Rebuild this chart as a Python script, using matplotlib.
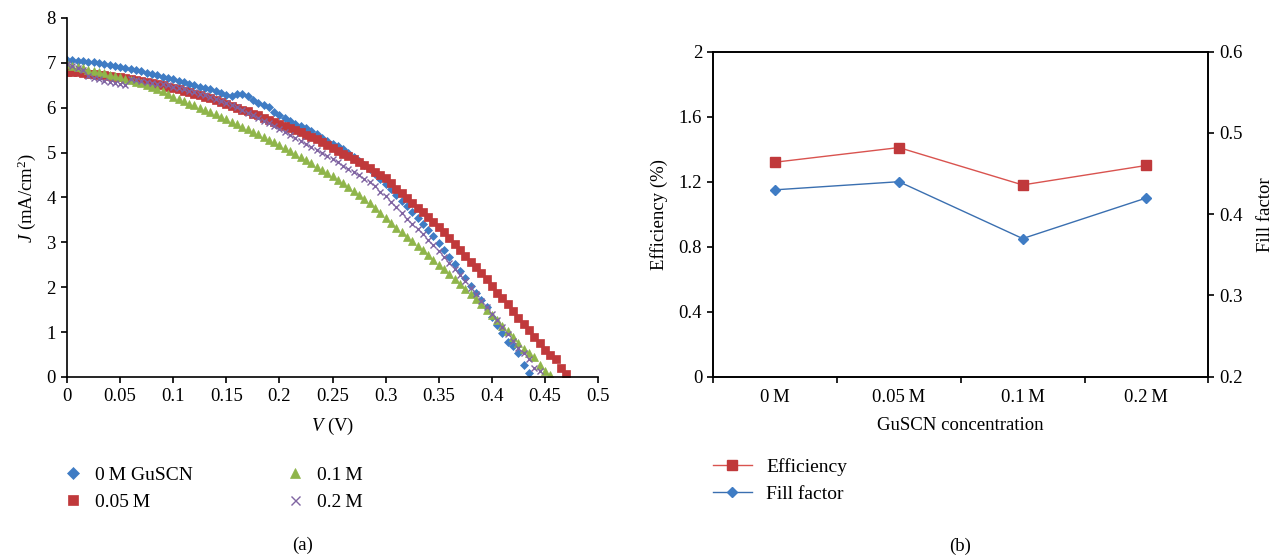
"""J-V curves and efficiency / fill factor vs GuSCN concentration"""
import numpy as np
import matplotlib.pyplot as plt

plt.rcParams['font.family'] = ['Liberation Serif', 'DejaVu Serif']
plt.rcParams['mathtext.fontset'] = 'custom'
plt.rcParams['mathtext.rm'] = 'Liberation Serif'
plt.rcParams['mathtext.it'] = 'Liberation Serif:italic'

# --- data (a): current density J (mA/cm2), voltage sweep step 5 mV from 0 V ---
V_STEP = 0.005
j_0M = [7.07, 7.06, 7.05, 7.04, 7.02, 7.01, 6.99, 6.97, 6.95, 6.93,
        6.91, 6.89, 6.86, 6.84, 6.81, 6.78, 6.75, 6.72, 6.69, 6.66,
        6.63, 6.60, 6.57, 6.53, 6.50, 6.47, 6.44, 6.41, 6.37, 6.33,
        6.29, 6.26, 6.31, 6.31, 6.27, 6.17, 6.10, 6.06, 6.02, 5.90,
        5.84, 5.77, 5.71, 5.64, 5.59, 5.54, 5.48, 5.41, 5.33, 5.26,
        5.20, 5.14, 5.08, 4.99, 4.90, 4.81, 4.72, 4.63, 4.53, 4.42,
        4.29, 4.18, 4.05, 3.93, 3.80, 3.67, 3.54, 3.42, 3.28, 3.14,
        2.99, 2.84, 2.68, 2.52, 2.36, 2.20, 2.03, 1.88, 1.72, 1.56,
        1.34, 1.15, 0.97, 0.78, 0.68, 0.53, 0.26, 0.08]
j_005M = [6.80, 6.80, 6.79, 6.78, 6.76, 6.75, 6.74, 6.72, 6.71, 6.69,
          6.68, 6.66, 6.64, 6.62, 6.59, 6.57, 6.55, 6.52, 6.50, 6.47,
          6.44, 6.41, 6.38, 6.35, 6.31, 6.28, 6.24, 6.21, 6.17, 6.13,
          6.09, 6.04, 6.00, 5.96, 5.92, 5.87, 5.83, 5.78, 5.73, 5.69,
          5.64, 5.59, 5.55, 5.50, 5.45, 5.40, 5.35, 5.30, 5.24, 5.17,
          5.11, 5.04, 4.98, 4.92, 4.86, 4.79, 4.72, 4.65, 4.57, 4.50,
          4.43, 4.32, 4.20, 4.09, 3.98, 3.88, 3.77, 3.67, 3.56, 3.45,
          3.34, 3.23, 3.10, 2.96, 2.83, 2.70, 2.57, 2.44, 2.32, 2.18,
          2.03, 1.88, 1.75, 1.62, 1.47, 1.32, 1.19, 1.04, 0.89, 0.75,
          0.61, 0.48, 0.39, 0.20, 0.06]
j_01M = [6.97, 6.94, 6.91, 6.88, 6.85, 6.82, 6.80, 6.77, 6.74, 6.71,
         6.68, 6.65, 6.62, 6.58, 6.55, 6.51, 6.47, 6.42, 6.37, 6.31,
         6.25, 6.19, 6.14, 6.09, 6.05, 6.00, 5.95, 5.90, 5.85, 5.80,
         5.75, 5.69, 5.64, 5.58, 5.52, 5.46, 5.41, 5.35, 5.29, 5.23,
         5.17, 5.11, 5.04, 4.97, 4.90, 4.83, 4.76, 4.69, 4.62, 4.55,
         4.48, 4.40, 4.32, 4.24, 4.15, 4.06, 3.97, 3.87, 3.76, 3.65,
         3.54, 3.43, 3.33, 3.23, 3.13, 3.02, 2.92, 2.82, 2.71, 2.61,
         2.50, 2.40, 2.29, 2.18, 2.08, 1.97, 1.85, 1.73, 1.62, 1.50,
         1.38, 1.26, 1.14, 1.02, 0.89, 0.76, 0.62, 0.53, 0.45, 0.27,
         0.13, 0.05]
j_02M = [6.97, 6.93, 6.89, 6.85, 6.70, 6.66, 6.63, 6.60, 6.58, 6.56,
         6.53, 6.50, 6.63, 6.61, 6.60, 6.58, 6.56, 6.54, 6.53, 6.50,
         6.47, 6.44, 6.41, 6.38, 6.35, 6.31, 6.28, 6.24, 6.20, 6.15,
         6.11, 6.06, 6.02, 5.96, 5.89, 5.83, 5.77, 5.71, 5.65, 5.59,
         5.53, 5.47, 5.40, 5.33, 5.26, 5.20, 5.13, 5.06, 4.99, 4.92,
         4.85, 4.78, 4.71, 4.64, 4.57, 4.50, 4.42, 4.34, 4.25, 4.12,
         4.03, 3.90, 3.78, 3.65, 3.52, 3.41, 3.30, 3.19, 3.06, 2.93,
         2.80, 2.67, 2.54, 2.40, 2.27, 2.13, 1.99, 1.86, 1.70, 1.56,
         1.41, 1.26, 1.11, 0.95, 0.80, 0.64, 0.53, 0.41, 0.19, 0.13]

# --- data (b) ---
concentrations = ['0\u2009M', '0.05\u2009M', '0.1\u2009M', '0.2\u2009M']
efficiency = [1.32, 1.41, 1.18, 1.30]
fill_factor = [0.43, 0.44, 0.37, 0.42]

BLUE = '#3f7cc4'
RED = '#c0393b'
GREEN = '#8fb54a'
PURPLE = '#8064a2'
FS = 13.5
FS_LEG = 14

fig = plt.figure(figsize=(12.82, 5.57), dpi=100)

# ---------- (a) ----------
ax = fig.add_axes([0.0523, 0.3232, 0.4142, 0.6445])
series = [
    (j_0M, 'D', BLUE, 4.4, '0\u2009M GuSCN'),
    (j_005M, 's', RED, 5.7, '0.05\u2009M'),
    (j_01M, '^', GREEN, 5.7, '0.1\u2009M'),
    (j_02M, 'x', PURPLE, 4.8, '0.2\u2009M'),
]
handles = []
for j, mk, col, ms, lab in series:
    v = np.arange(len(j)) * V_STEP
    h, = ax.plot(v, j, linestyle='none', marker=mk, color=col, markersize=ms,
                 markeredgewidth=1.0 if mk == 'x' else 0.5, label=lab)
    handles.append(h)

ax.set_xlim(0, 0.5)
ax.set_ylim(0, 8)
ax.set_xticks(np.arange(0, 0.51, 0.05))
ax.set_xticklabels(['0', '0.05', '0.1', '0.15', '0.2', '0.25', '0.3', '0.35',
                    '0.4', '0.45', '0.5'])
ax.set_yticks(range(0, 9))
ax.spines['top'].set_visible(False)
ax.spines['right'].set_visible(False)
for s in ('left', 'bottom'):
    ax.spines[s].set_linewidth(1.2)
ax.tick_params(direction='out', length=4.5, width=1.2, labelsize=FS)
ax.set_xlabel(r'$V$ (V)', fontsize=FS, labelpad=8)
ax.set_ylabel(r'$J$ (mA/cm$^2$)', fontsize=FS, labelpad=6)

fig.legend(handles=handles, loc='upper left', bbox_to_anchor=(60 / 1282, 1 - 466 / 557),
           ncol=2, frameon=False, fontsize=FS_LEG, markerscale=1.35,
           handlelength=1.3, handletextpad=0.5, columnspacing=4.6,
           labelspacing=0.5, borderpad=0, borderaxespad=0)
fig.text(303 / 1282, 1 - 545 / 557, '(a)', ha='center', va='center', fontsize=FS)

# ---------- (b) ----------
bx = fig.add_axes([0.5564, 0.3237, 0.3861, 0.5835])
x = np.arange(len(concentrations))
l1, = bx.plot(x, efficiency, color='#d9534f', linewidth=1.0, marker='s',
              markersize=6.5, markerfacecolor=RED, markeredgecolor=RED, label='Efficiency')
bx.set_ylim(0, 2)
bx.set_yticks([0, 0.4, 0.8, 1.2, 1.6, 2])
bx.set_yticklabels(['0', '0.4', '0.8', '1.2', '1.6', '2'])
bx.set_xlim(-0.5, len(concentrations) - 0.5)
bx.set_xticks(np.arange(-0.5, len(concentrations)), labels=[])
bx.set_xticks(x, labels=concentrations, minor=True)
bx.tick_params(axis='x', which='minor', length=0, labelsize=FS, pad=9)
bx.tick_params(axis='x', which='major', direction='out', length=4, width=1.2)
bx.tick_params(axis='y', direction='out', length=4.5, width=1.2, labelsize=FS)
bx.set_ylabel('Efficiency (%)', fontsize=FS, labelpad=8)
bx.set_xlabel('GuSCN concentration', fontsize=FS, labelpad=8)

bx2 = bx.twinx()
l2, = bx2.plot(x, fill_factor, color='#3a6fb0', linewidth=1.0, marker='D',
               markersize=5.5, markerfacecolor=BLUE, markeredgecolor=BLUE, label='Fill factor')
bx2.set_ylim(0.2, 0.6)
bx2.set_yticks([0.2, 0.3, 0.4, 0.5, 0.6])
bx2.tick_params(axis='y', direction='out', length=4.5, width=1.2, labelsize=FS)
bx2.set_ylabel('Fill factor', fontsize=FS, labelpad=10)
for a in (bx, bx2):
    for s in a.spines.values():
        s.set_linewidth(1.2)

fig.legend(handles=[l1, l2], loc='upper left', bbox_to_anchor=(713 / 1282, 1 - 458 / 557),
           frameon=False, fontsize=FS_LEG, handlelength=2.0, handletextpad=0.75,
           labelspacing=0.5, borderpad=0, borderaxespad=0)
fig.text(960 / 1282, 1 - 546 / 557, '(b)', ha='center', va='center', fontsize=FS)

plt.savefig('out.png', dpi=100)
plt.close()
